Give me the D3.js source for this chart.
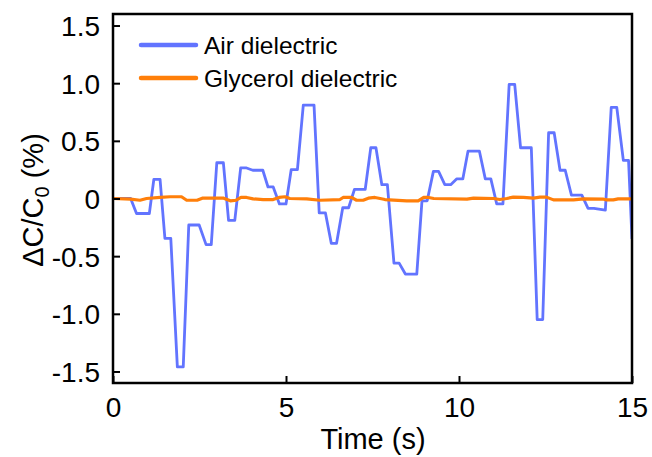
<!DOCTYPE html>
<html>
<head>
<meta charset="utf-8">
<script src="https://cdn.jsdelivr.net/npm/d3@7"></script>
<style>
  html, body { margin: 0; padding: 0; background: #fff; }
  svg { display: block; font-family: Arial, "Liberation Sans", sans-serif; }
</style>
</head>
<body>
<svg id="chart" width="652" height="457"></svg>
<script>
// ---- data ----
const airTime  = [0, 0.51, 0.68, 1.05, 1.18, 1.36, 1.50, 1.67, 1.86, 2.03, 2.19, 2.49, 2.69, 2.84, 3.00, 3.19, 3.34, 3.52, 3.69, 3.86, 4.04, 4.33, 4.48, 4.63, 4.81, 5.00, 5.15, 5.33, 5.50, 5.81, 5.96, 6.14, 6.31, 6.46, 6.64, 6.81, 6.98, 7.29, 7.45, 7.60, 7.77, 7.93, 8.12, 8.27, 8.45, 8.78, 8.93, 9.08, 9.26, 9.41, 9.59, 9.76, 9.93, 10.11, 10.26, 10.59, 10.76, 10.92, 11.09, 11.27, 11.45, 11.61, 11.78, 12.09, 12.26, 12.42, 12.59, 12.75, 12.92, 13.07, 13.25, 13.55, 13.73, 13.90, 14.23, 14.40, 14.56, 14.75, 14.90, 15.0];
const airValue = [0, 0, -0.13, -0.13, 0.165, 0.165, -0.345, -0.345, -1.46, -1.46, -0.23, -0.23, -0.40, -0.40, 0.31, 0.31, -0.19, -0.19, 0.265, 0.265, 0.245, 0.245, 0.10, 0.10, -0.047, -0.047, 0.25, 0.25, 0.81, 0.81, -0.125, -0.125, -0.39, -0.39, -0.08, -0.08, 0.08, 0.08, 0.44, 0.44, 0.12, 0.12, -0.56, -0.56, -0.655, -0.655, -0.02, -0.02, 0.235, 0.235, 0.12, 0.12, 0.17, 0.17, 0.41, 0.41, 0.17, 0.17, -0.047, -0.047, 0.99, 0.99, 0.44, 0.44, -1.05, -1.05, 0.57, 0.57, 0.245, 0.245, 0.03, 0.03, -0.085, -0.085, -0.10, 0.79, 0.79, 0.33, 0.33, -0.35];

const glyTime  = [0, 0.51, 0.78, 0.97, 1.36, 1.65, 1.98, 2.13, 2.43, 2.58, 3.20, 3.39, 3.56, 3.70, 3.86, 4.05, 4.34, 4.63, 4.80, 4.97, 5.11, 5.60, 5.98, 6.56, 6.65, 6.89, 7.04, 7.23, 7.38, 7.57, 7.72, 7.86, 8.49, 8.82, 8.98, 9.12, 9.27, 10.23, 10.42, 11.00, 11.18, 11.38, 11.57, 11.86, 12.15, 12.34, 12.53, 12.73, 13.31, 13.60, 14.18, 14.27, 14.46, 14.60, 15.0];
const glyValue = [0, -0.006, -0.015, 0, 0.009, 0.015, 0.015, -0.015, -0.015, 0.003, 0.003, -0.02, -0.015, 0.009, 0.009, -0.003, -0.009, -0.009, 0.009, 0.015, 0, -0.003, -0.015, -0.009, 0.009, 0.009, -0.015, -0.015, 0.003, 0.009, 0, -0.009, -0.02, -0.02, 0.009, 0.009, 0, -0.006, 0.003, 0, -0.009, 0, 0.012, 0.009, 0.003, 0.012, 0.012, -0.012, -0.012, -0.003, -0.006, -0.012, -0.012, -0.003, -0.003];

const xTicks = [0, 5, 10, 15];
const xTickLabels = ["0", "5", "10", "15"];
const yTicks = [-1.5, -1.0, -0.5, 0, 0.5, 1.0, 1.5];
const yTickLabels = ["-1.5", "-1.0", "-0.5", "0", "0.5", "1.0", "1.5"];
const seriesNames = ["Air dielectric", "Glycerol dielectric"];
const seriesColors = ["#6274ff", "#ff7f0a"];

// ---- layout ----
const L = 113, R = 632, T = 14, B = 383;
const svg = d3.select("#chart");
const x = d3.scaleLinear().domain([0, 15]).range([L, R]);
const y = d3.scaleLinear().domain([-1.6, 1.6]).range([B, T]);

// lines
const line = d3.line().x(d => x(d[0])).y(d => y(d[1]));
const glyData = glyTime.map((t, i) => [t, glyValue[i]]);
const airData = airTime.map((t, i) => [t, airValue[i]]);

svg.append("defs").append("clipPath").attr("id", "clip")
  .append("rect").attr("x", L).attr("y", T).attr("width", R - L).attr("height", B - T);

const g = svg.append("g").attr("clip-path", "url(#clip)");
g.append("path").datum(airData).attr("d", line)
  .attr("fill", "none").attr("stroke", seriesColors[0]).attr("stroke-width", 2.8)
  .attr("stroke-linejoin", "round");
g.append("path").datum(glyData).attr("d", line)
  .attr("fill", "none").attr("stroke", seriesColors[1]).attr("stroke-width", 3.2)
  .attr("stroke-linejoin", "round");

// axes with inward ticks
const xAxis = d3.axisBottom(x).tickValues(xTicks).tickSize(-7).tickPadding(14)
  .tickFormat((d, i) => xTickLabels[i]);
const yAxis = d3.axisLeft(y).tickValues(yTicks).tickSize(-7).tickPadding(13)
  .tickFormat((d, i) => yTickLabels[i]);

const gx = svg.append("g").attr("transform", `translate(0,${B})`).call(xAxis);
const gy = svg.append("g").attr("transform", `translate(${L},0)`).call(yAxis);
[gx, gy].forEach(a => {
  a.select(".domain").remove();
  a.selectAll(".tick line").attr("stroke", "#000").attr("stroke-width", 2);
  a.selectAll(".tick text").attr("fill", "#000").attr("font-size", 28)
    .attr("font-family", "Arial, 'Liberation Sans', sans-serif");
});
gx.selectAll(".tick text").attr("dy", "0.71em");
gy.selectAll(".tick text").attr("dy", "0.36em");

// frame
svg.append("rect").attr("x", L).attr("y", T).attr("width", R - L).attr("height", B - T)
  .attr("fill", "none").attr("stroke", "#000").attr("stroke-width", 2.5);

// axis titles
svg.append("text").attr("x", 373).attr("y", 449).attr("text-anchor", "middle")
  .attr("font-size", 29).attr("fill", "#000").text("Time (s)");

const yt = svg.append("text").attr("transform", "translate(43,200) rotate(-90)")
  .attr("text-anchor", "middle").attr("font-size", 29).attr("fill", "#000");
yt.append("tspan").text("\u0394C/C");
yt.append("tspan").attr("font-size", 20).attr("dy", 6).text("0");
yt.append("tspan").attr("dy", -6).text(" (%)");

// legend
const legY = [45, 78];
seriesNames.forEach((name, i) => {
  svg.append("line").attr("x1", 141).attr("x2", 196).attr("y1", legY[i]).attr("y2", legY[i])
    .attr("stroke", seriesColors[i]).attr("stroke-width", 4.5).attr("stroke-linecap", "round");
  svg.append("text").attr("x", 204).attr("y", legY[i] + 9).attr("font-size", 24.5)
    .attr("fill", "#000").text(name);
});
</script>
</body>
</html>
